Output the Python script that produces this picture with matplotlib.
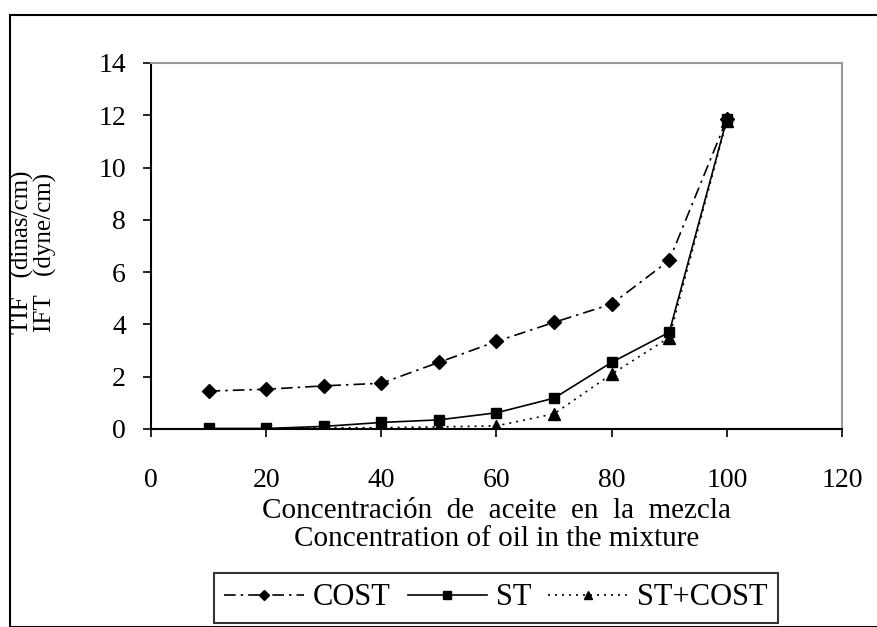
import matplotlib
matplotlib.use("Agg")
import matplotlib.pyplot as plt
from matplotlib.patches import Rectangle

x = [10, 20, 30, 40, 50, 60, 70, 80, 90, 100]
cost = [1.45, 1.52, 1.65, 1.75, 2.55, 3.35, 4.08, 4.78, 6.45, 11.85]
st = [0.02, 0.02, 0.1, 0.25, 0.35, 0.62, 1.18, 2.55, 3.7, 11.85]
st_cost = [0.0, 0.0, 0.05, 0.05, 0.08, 0.12, 0.58, 2.1, 3.5, 11.8]
xticks = [0, 20, 40, 60, 80, 100, 120]
yticks = [0, 2, 4, 6, 8, 10, 12, 14]

plt.rcParams['font.family'] = ['Liberation Serif']

W, H = 877, 627
fig = plt.figure(figsize=(8.77, 6.27), dpi=100)
fig.patches.append(Rectangle((10/W, 0), 1, 1 - 15/H, transform=fig.transFigure,
                             fill=False, edgecolor='black', linewidth=1.5))
ax = fig.add_axes([151/W, 1 - 429/H, (842 - 151)/W, (429 - 63)/H])

ax.plot(x, cost, color='black', linestyle=(0, (7, 3, 1.5, 3)), linewidth=1.2,
        marker='D', markersize=7, label='COST')
ax.plot(x, st, color='black', linestyle='-', linewidth=1.2,
        marker='s', markersize=7, label='ST')
ax.plot(x, st_cost, color='black', linestyle=(0, (1.2, 3)), linewidth=1.2,
        marker='^', markersize=8, label='ST+COST')

ax.set_xlim(0, 120)
ax.set_ylim(0, 14)
ax.set_xticks(xticks)
ax.set_yticks(yticks)
ax.tick_params(axis='both', direction='out', length=6, width=1.2, labelsize=20)
ax.tick_params(axis='x', pad=22)
ax.tick_params(axis='y', pad=12)
for s in ['top', 'right']:
    ax.spines[s].set_color('#999999')
    ax.spines[s].set_linewidth(1.5)
for s in ['left', 'bottom']:
    ax.spines[s].set_linewidth(1.5)

fig.text(497/W, 1 - 525/H,
         'Concentración  de  aceite  en  la  mezcla\nConcentration of oil in the mixture',
         fontsize=21, linespacing=1.05, ha='center', va='center', multialignment='center')
fig.text(34/W, 1 - 252/H, 'TIF   (dinas/cm)\nIFT   (dyne/cm)', fontsize=18,
         linespacing=1.0, rotation=90, ha='center', va='center', multialignment='center')

leg = ax.legend(loc='lower center', bbox_to_anchor=(496/W, 1 - 623/H),
                bbox_transform=fig.transFigure, ncol=3, frameon=True, fancybox=False,
                edgecolor='black', fontsize=22, handlelength=2.6, handletextpad=0.3,
                columnspacing=0.55, borderpad=0.35, borderaxespad=0, markerscale=0.8)
leg.get_frame().set_linewidth(1.5)

fig.savefig('out.png', dpi=100)
